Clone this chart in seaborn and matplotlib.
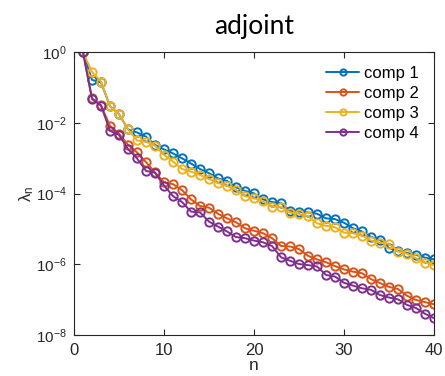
import matplotlib
matplotlib.use("Agg")
import matplotlib.pyplot as plt
import seaborn as sns
import pandas as pd
import numpy as np

n = list(range(1, 41))
comp1 = [1.0, 1.66e-1, 1.41e-1, 3.0e-2, 1.78e-2, 6.6e-3, 5.4e-3, 4.1e-3, 2.4e-3, 1.78e-3,
         1.38e-3, 1.0e-3, 7.1e-4, 5.0e-4, 3.8e-4, 2.7e-4, 2.3e-4, 1.5e-4, 1.2e-4, 1.02e-4,
         6.9e-5, 5.8e-5, 5.4e-5, 3.3e-5, 3.1e-5, 2.95e-5, 2.7e-5, 2.0e-5, 1.9e-5, 1.5e-5,
         1.05e-5, 8.5e-6, 6.0e-6, 4.9e-6, 2.9e-6, 2.4e-6, 2.1e-6, 1.86e-6, 1.55e-6, 1.38e-6]
comp2 = [1.0, 5.0e-2, 3.2e-2, 8.3e-3, 5.0e-3, 2.4e-3, 1.48e-3, 7.8e-4, 4.0e-4, 2.1e-4,
         1.86e-4, 1.26e-4, 6.9e-5, 4.5e-5, 4.0e-5, 2.7e-5, 2.0e-5, 1.55e-5, 1.05e-5, 8.9e-6,
         7.6e-6, 5.5e-6, 3.3e-6, 3.2e-6, 2.7e-6, 1.74e-6, 1.38e-6, 1.15e-6, 8.9e-7, 7.2e-7,
         6.2e-7, 5.6e-7, 3.8e-7, 2.95e-7, 2.3e-7, 2.0e-7, 1.29e-7, 9.8e-8, 8.5e-8, 7.4e-8]
comp3 = [1.0, 2.8e-1, 1.48e-1, 3.0e-2, 1.78e-2, 6.6e-3, 3.2e-3, 2.95e-3, 2.3e-3, 1.26e-3,
         8.1e-4, 5.0e-4, 4.2e-4, 3.4e-4, 2.6e-4, 2.0e-4, 1.66e-4, 1.26e-4, 8.5e-5, 7.4e-5,
         6.0e-5, 4.3e-5, 4.2e-5, 2.9e-5, 2.7e-5, 2.3e-5, 1.45e-5, 1.23e-5, 1.12e-5, 7.9e-6,
         7.6e-6, 6.5e-6, 4.7e-6, 4.1e-6, 3.8e-6, 2.3e-6, 2.0e-6, 1.48e-6, 1.12e-6, 9.5e-7]
comp4 = [1.0, 4.8e-2, 3.1e-2, 6.0e-3, 4.6e-3, 1.82e-3, 1.0e-3, 4.4e-4, 3.9e-4, 1.7e-4,
         8.5e-5, 5.8e-5, 3.1e-5, 2.95e-5, 1.62e-5, 1.17e-5, 8.5e-6, 5.9e-6, 5.5e-6, 4.7e-6,
         4.2e-6, 3.3e-6, 1.58e-6, 1.26e-6, 1.02e-6, 9.5e-7, 8.7e-7, 5.0e-7, 4.5e-7, 3.0e-7,
         2.5e-7, 2.1e-7, 1.9e-7, 1.35e-7, 1.15e-7, 1.02e-7, 7.1e-8, 5.8e-8, 4.0e-8, 3.0e-8]

labels = ["comp 1", "comp 2", "comp 3", "comp 4"]
colors = ["#0072BD", "#D95319", "#EDB120", "#7E2F8E"]
xticks = [0, 10, 20, 30, 40]
yticks = [1e-8, 1e-6, 1e-4, 1e-2, 1e0]
ytick_labels = [r"$10^{-8}$", r"$10^{-6}$", r"$10^{-4}$", r"$10^{-2}$", r"$10^{0}$"]

df = pd.concat([
    pd.DataFrame({"n": n, "lam": vals, "comp": lab})
    for vals, lab in zip([comp1, comp2, comp3, comp4], labels)
], ignore_index=True)

sns.set_style("ticks")
plt.rcParams["font.family"] = ["Liberation Sans", "DejaVu Sans"]
plt.rcParams["mathtext.fontset"] = "custom"
plt.rcParams["mathtext.rm"] = "Liberation Sans"
plt.rcParams["mathtext.it"] = "Liberation Sans:italic"
plt.rcParams["mathtext.default"] = "regular"

fig = plt.figure(figsize=(4.45, 3.76), dpi=100)
ax = fig.add_axes([74 / 445, 1 - 335 / 376, 360 / 445, (335 - 52.3) / 376])

sns.lineplot(data=df, x="n", y="lam", hue="comp", palette=colors, hue_order=labels,
             marker="o", markersize=6, markerfacecolor="none", markeredgewidth=1.4,
             linewidth=1.4, ax=ax, legend=False)

for line, c in zip(ax.get_lines(), colors):
    line.set_markeredgecolor(c)

ax.set_yscale("log")
ax.set_xlim(0, 40)
ax.set_ylim(1e-8, 1e0)
ax.set_xticks(xticks)
ax.set_xticklabels([str(t) for t in xticks])
ax.set_yticks(yticks)
ax.set_yticklabels(ytick_labels)
ax.yaxis.set_minor_locator(matplotlib.ticker.NullLocator())

tc = "#262626"
for s in ax.spines.values():
    s.set_visible(True)
    s.set_color(tc)
    s.set_linewidth(0.8)
ax.tick_params(axis="both", which="major", direction="in", length=4, width=0.8,
               top=True, right=True, colors=tc, labelcolor=tc, pad=6)
ax.tick_params(axis="x", labelsize=12)
ax.tick_params(axis="y", labelsize=11, pad=5)

ax.set_xlabel("n", fontsize=12.5, color=tc, labelpad=0)
ax.set_ylabel(r"$\lambda_n$", fontsize=12, color=tc, labelpad=0)
ax.set_title("adjoint", fontsize=19, family=["Lato", "DejaVu Sans"], color="black", pad=13)

leg = ax.legend(handles=ax.get_lines()[:4], labels=labels, loc="upper left",
                bbox_to_anchor=(326 / 445, 1 - 66 / 376), bbox_transform=fig.transFigure,
                frameon=False, fontsize=12, handlelength=2.0, handletextpad=0.3,
                labelspacing=0.3, borderpad=0, borderaxespad=0, numpoints=1,
                markerscale=0.75)
for t in leg.get_texts():
    t.set_color("black")

fig.savefig("out.png", dpi=100)
